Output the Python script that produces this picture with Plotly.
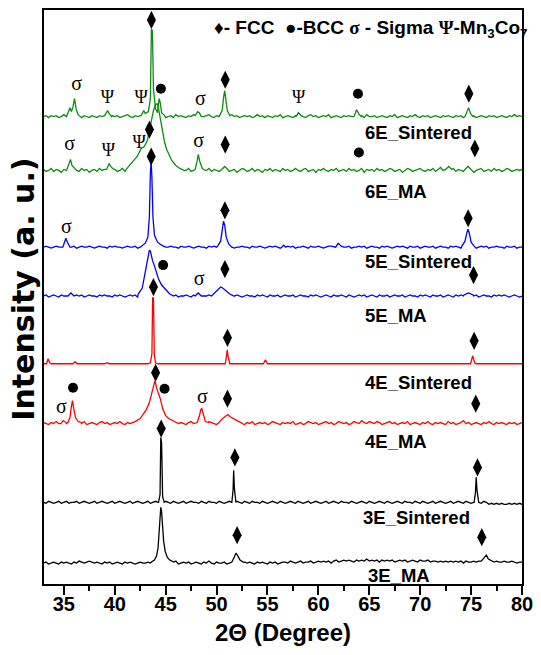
import numpy as np
import plotly.graph_objects as go

# ---------------- data ----------------
X0, DX = 33.0, 0.25   # grid of the noisy baselines (2-theta)

# baseline offsets of the stacked patterns (arbitrary intensity units)
OFFSETS = {"6E_Sintered": 469, "6E_MA": 415, "5E_Sintered": 338, "5E_MA": 289,
           "4E_Sintered": 221, "4E_MA": 161, "3E_Sintered": 82, "3E_MA": 21}

COLORS = {"6E_Sintered": "#0f8a12", "6E_MA": "#0f8a12", "5E_Sintered": "#0000ff",
          "5E_MA": "#0000ff", "4E_Sintered": "#ff0000", "4E_MA": "#ff0000",
          "3E_Sintered": "#000000", "3E_MA": "#000000"}

NOISE_6E_S = [0,1,-1,1,0,1,-1,0,2,0, 1,-1,0,1,0,-1,1,0,-1,1,
              0,-1,1,0,2,0,-1,1,0,1, -1,0,1,2,0,-1,1,0,1,0,
              1,0,-1,1,0,2,1,0,-1,0, 1,-1,2,0,1,0,-1,1,0,2,
              0,-1,1,0,1,2,0,-1,1,0, 1,0,-1,1,2,0,1,-1,0,1,
              0,1,-1,0,2,0,1,-1,1,0, -1,1,0,2,-1,0,1,0,-1,1,
              0,1,0,-1,1,2,0,1,-1,0, 1,0,2,-1,0,1,0,-1,1,0,
              1,0,-1,1,0,1,-1,2,0,0, 1,-1,0,1,0,-1,1,0,2,-1,
              0,1,0,-1,1,0,2,0,-1,1, 0,1,-1,0,1,0,-1,1,0,1,
              0,-1,1,0,1,-1,0,2,0,1, -1,0,1,0,-1,1,0,1,-1,0,
              1,0,-1,1,0,2,0,1,0]
PEAKS_6E_S = [
    [(35.3, 1), (35.5, 6), (35.6, 9), (35.75, 5), (35.9, 10), (36.05, 18), (36.2, 8), (36.4, 2), (36.6, 0)],
    [(39.0, 1), (39.2, 4), (39.3, 6), (39.45, 3), (39.7, 0)],
    [(42.6, 1), (42.85, 6), (43.0, 3), (43.3, 5), (43.5, 18), (43.6, 88), (43.7, 86), (43.8, 28),
     (44.0, 8), (44.2, 4), (44.35, 18), (44.45, 15), (44.6, 4), (44.9, 1)],
    [(47.9, 1), (48.15, 5), (48.3, 4), (48.5, 0)],
    [(50.3, 1), (50.55, 6), (50.7, 20), (50.8, 26), (50.9, 18), (51.05, 6), (51.3, 1)],
    [(57.8, 0), (58.05, 4), (58.3, 1)],
    [(63.5, 0), (63.75, 7), (63.95, 3), (64.2, 0)],
    [(74.4, 0), (74.65, 7), (74.75, 9), (74.95, 3), (75.2, 0)],
]

NOISE_6E_MA = [1,-1,0,2,-1,1,0,-2,1,0, 2,-1,1,0,-1,2,0,1,-2,0,
               1,-1,2,0,1,-2,0,1,1,-1, 0,2,-1,1,0,-1,2,0,1,-1,
               0,1,-1,2,0,1,0,-1,1,0, 2,-1,0,1,-2,1,0,2,-1,0,
               1,0,-2,1,0,2,-1,1,0,-1, 2,0,1,-1,0,1,-2,0,2,1,
               -1,0,2,-1,1,0,-2,1,0,2, -1,1,0,-1,2,0,1,-1,0,2,
               0,-1,1,2,-1,0,1,-2,1,0, 2,0,-1,1,0,2,-1,0,1,-1,
               2,0,1,-1,0,2,-2,1,0,1, -1,2,0,1,-1,0,2,1,-1,0,
               1,-2,0,2,1,-1,0,1,2,0, -1,1,0,2,-1,1,3,0,1,-1,
               0,2,-1,1,0,-1,2,0,1,-2, 0,1,2,-1,0,1,-1,2,0,1,
               -1,0,2,1,-1,0,1,0,1]
PEAKS_6E_MA = [
    [(35.3, 1), (35.55, 8), (35.65, 11), (35.8, 5), (36.1, 1)],
    [(39.2, 1), (39.45, 7), (39.6, 4), (39.9, 1)],
    [(41.2, 2), (41.7, 8), (42.2, 14), (42.6, 22), (42.9, 24), (43.2, 30), (43.4, 40), (43.6, 52),
     (43.8, 60), (44.0, 66), (44.15, 67), (44.3, 62), (44.5, 50), (44.7, 38), (44.9, 28), (45.1, 21),
     (45.3, 16), (45.6, 10), (46.0, 5), (46.4, 2), (46.8, 0)],
    [(47.9, 1), (48.1, 10), (48.2, 16), (48.35, 9), (48.6, 2), (48.9, 0)],
    [(50.5, 1), (50.8, 4), (51.1, 1)],
    [(72.5, 1), (72.8, 4), (73.1, 1)],
    [(74.4, 1), (74.7, 4), (75.0, 1)],
]

NOISE_5E_S = [0,1,0,-1,0,1,0,0,-1,1, 0,0,1,-1,0,1,0,0,1,0,
              -1,0,1,0,0,-1,1,0,1,0, 0,-1,0,1,0,0,1,-1,0,1,
              0,0,-1,1,0,0,1,0,-1,0, 1,0,0,-1,1,0,0,1,0,-1,
              0,1,0,0,-1,1,0,1,0,0, -1,0,1,0,1,-1,0,0,1,0,
              0,-1,1,0,0,1,0,-1,0,1, 0,1,0,-1,0,0,1,0,1,-1,
              0,0,1,0,-1,1,0,0,1,0, -1,0,1,1,0,-1,0,1,0,0,
              1,-1,0,0,1,0,1,-1,0,1, 0,0,-1,1,0,1,0,-1,0,1,
              0,1,0,-1,1,0,0,1,-1,0, 1,0,0,1,-1,0,1,0,0,-1,
              1,0,1,0,-1,0,1,0,0,1, -1,0,1,0,1,-1,0,0,1,0,
              0,-1,1,0,0,1,-1,0,0]
PEAKS_5E_S = [
    [(34.9, 0), (35.1, 6), (35.2, 9), (35.35, 5), (35.6, 0)],
    [(42.6, 1), (43.0, 4), (43.25, 10), (43.4, 30), (43.5, 75), (43.57, 86), (43.65, 70), (43.75, 30),
     (43.9, 12), (44.2, 5), (44.6, 2), (45.0, 0)],
    [(50.1, 1), (50.4, 6), (50.55, 16), (50.68, 26), (50.8, 22), (50.95, 10), (51.2, 3), (51.5, 0)],
    [(56.4, 0), (56.6, 2), (56.8, 0)],
    [(61.7, 0), (61.95, 4), (62.2, 1)],
    [(74.1, 1), (74.4, 6), (74.6, 15), (74.7, 18), (74.82, 14), (75.0, 5), (75.3, 1)],
]

NOISE_5E_MA = [0,1,-1,0,1,0,-1,1,0,0, 1,0,-1,1,0,1,-1,0,1,0,
               0,-1,1,0,1,0,0,-1,1,0, 1,0,-1,0,1,0,1,-1,0,1,
               0,1,0,-1,1,0,0,1,-1,0, 1,0,1,-1,0,0,1,0,-1,1,
               0,-1,1,0,0,1,0,-1,1,0, 0,1,-1,0,1,0,1,0,-1,0,
               1,0,0,-1,1,0,1,0,-1,1, 0,0,1,-1,0,1,0,0,1,-1,
               0,1,0,0,-1,1,0,1,0,-1, 0,1,0,-1,1,0,0,1,0,-1,
               1,0,-1,0,1,0,1,-1,0,1, 0,-1,1,0,0,1,-1,0,1,0,
               0,1,-1,0,1,0,0,-1,1,0, 1,0,-1,1,0,0,1,-1,0,1,
               0,-1,1,0,1,0,-1,0,1,0, 1,-1,0,1,0,0,-1,1,0,1,
               0,1,0,-1,0,1,0,-1,0]
PEAKS_5E_MA = [
    [(35.4, 0), (35.7, 3), (36.0, 0)],
    [(42.3, 2), (42.7, 8), (43.0, 24), (43.2, 38), (43.4, 46), (43.5, 45), (43.7, 36), (44.0, 27),
     (44.3, 17), (44.6, 11), (45.0, 6), (45.4, 2), (45.8, 0)],
    [(47.9, 0), (48.2, 3), (48.5, 0)],
    [(49.6, 1), (49.9, 4), (50.2, 8), (50.4, 9), (50.6, 8), (50.9, 5), (51.3, 2), (51.7, 0)],
    [(74.3, 1), (74.75, 3), (75.2, 1)],
]

NOISE_4E_S = [0,0,0,0,0,0,0,0,0,0, 0,0,0,0,0,0,0,0,0,0,
              0,0,0,0,0,1,0,0,0,0, 0,0,0,0,0,0,0,0,0,0,
              0,0,0,0,0,0,0,0,0,0, 0,0,0,0,0,0,0,0,0,0,
              0,0,0,0,0,0,0,0,0,0, 0,0,0,0,0,0,0,0,0,0,
              0,0,0,0,0,0,0,0,0,0, 0,0,0,0,0,0,0,0,0,0,
              0,0,0,0,0,0,0,0,0,0, 0,0,0,0,0,0,0,0,0,0,
              0,0,0,0,0,0,0,0,0,0, 0,0,0,0,0,0,0,0,0,0,
              0,0,0,0,0,0,0,0,0,0, 0,0,0,0,0,0,0,0,0,0,
              0,0,0,0,0,0,0,0,0,0, 0,0,0,0,0,0,0,0,0,0,
              0,0,0,0,0,0,0,0,0]
PEAKS_4E_S = [
    [(33.3, 0), (33.45, 5), (33.6, 1), (33.8, 0)],
    [(35.9, 0), (36.1, 2), (36.3, 0)],
    [(43.5, 1), (43.65, 10), (43.72, 66), (43.8, 66), (43.88, 10), (44.0, 1)],
    [(50.85, 0), (50.98, 8), (51.05, 14), (51.12, 8), (51.3, 0)],
    [(54.6, 0), (54.8, 4), (55.0, 0)],
    [(74.95, 0), (75.15, 8), (75.35, 1)],
]

NOISE_4E_MA = [1,0,-1,1,0,2,0,-1,1,0, 0,1,-1,0,1,0,2,-1,0,1,
               0,-1,1,2,0,1,-1,0,1,0, 2,0,-1,1,0,1,0,-1,2,1,
               0,1,-1,0,1,0,-1,1,0,2, 0,-1,1,0,1,0,-1,1,2,0,
               1,0,-1,1,0,2,1,0,-1,1, 0,1,2,0,-1,1,0,1,0,-1,
               1,0,2,-1,0,1,0,1,-1,0, 2,1,0,-1,1,0,1,0,2,-1,
               0,1,-1,0,2,1,0,1,-1,0, 1,2,0,1,-1,0,2,1,0,1,
               -1,0,2,1,0,3,1,0,2,1, 0,2,1,-1,0,1,2,0,1,-1,
               0,1,0,2,-1,0,1,0,-1,1, 0,2,0,-1,1,0,1,0,-1,2,
               0,1,-1,0,1,3,0,1,-1,0, 1,0,-1,1,0,2,0,-1,1,0,
               1,0,-1,1,0,1,-1,0,1]
PEAKS_4E_MA = [
    [(34.7, 0), (34.95, 3), (35.2, 1)],
    [(35.4, 1), (35.6, 6), (35.75, 18), (35.85, 23), (35.95, 16), (36.15, 6), (36.4, 2), (36.7, 1)],
    [(42.0, 2), (42.5, 5), (42.8, 9), (43.1, 14), (43.4, 21), (43.65, 32), (43.85, 41), (43.95, 43),
     (44.1, 36), (44.3, 30), (44.5, 24), (44.7, 15), (45.0, 8), (45.3, 5), (45.7, 3), (46.2, 1)],
    [(48.1, 1), (48.3, 7), (48.45, 14), (48.55, 15), (48.7, 8), (48.9, 2), (49.2, 1)],
    [(50.3, 2), (50.6, 5), (50.9, 8), (51.1, 9), (51.3, 7), (51.6, 5), (52.0, 3), (52.4, 1)],
]

NOISE_3E_S = [0,-1,1,0,-1,0,1,-1,0,1, -1,0,0,1,-1,0,1,0,-1,0,
              1,-1,0,1,0,-1,0,1,-1,0, 1,0,-1,0,1,-1,0,1,0,-1,
              0,1,-1,0,1,0,-1,0,1,0, -1,1,0,-1,0,1,-1,0,1,0,
              0,-1,1,0,-1,1,0,0,-1,1, 0,-1,0,1,-1,0,1,0,-1,1,
              0,-1,1,0,0,-1,1,0,-1,0, 1,0,-1,1,0,-1,0,1,0,-1,
              1,0,-1,0,1,-1,0,1,0,-1, 0,1,-1,0,1,0,-1,1,0,0,
              -1,1,0,-1,0,1,0,-1,1,0, -1,0,1,0,-1,1,0,-1,0,1,
              0,-1,1,0,0,-1,1,0,-1,1, 0,-1,0,1,-1,0,1,0,-1,0,
              1,-1,0,1,0,-1,1,0,-1,0, 1,0,-1,1,0,-2,-1,-2,-1,-2,
              -1,-2,-2,-1,-2,-1,-2,-1,-2]
PEAKS_3E_S = [
    [(44.3, 0), (44.45, 8), (44.52, 65), (44.6, 60), (44.7, 6), (44.85, 0)],
    [(51.5, 0), (51.62, 12), (51.68, 32), (51.75, 14), (51.9, 0)],
    [(75.3, 0), (75.43, 10), (75.5, 25), (75.58, 12), (75.75, 0)],
]

NOISE_3E_MA = [0,1,-1,0,1,0,-1,1,0,1, 0,-1,1,0,2,1,0,1,2,1,
               0,1,0,-1,1,0,1,-1,0,1, 0,-1,1,0,1,0,-1,0,1,0,
               0,1,0,-1,1,0,0,1,-1,0, 1,0,2,-1,0,1,0,1,-1,0,
               1,0,-1,1,0,2,0,-1,1,0, 0,1,-1,0,1,0,1,-1,0,1,
               0,1,0,-1,1,0,1,0,-1,1, 0,1,-1,0,1,1,0,2,1,0,
               1,2,0,1,1,2,0,1,2,1, 2,1,2,0,2,3,1,2,3,2,
               3,2,1,3,2,3,2,4,2,3, 2,3,1,3,2,3,2,3,1,2,
               3,2,3,1,2,3,2,1,3,2, 2,3,1,2,2,1,2,1,2,1,
               2,1,2,1,2,0,2,1,1,2, 1,2,1,2,1,1,2,1,2,1,
               1,2,1,1,2,1,0,1,1]
PEAKS_3E_MA = [
    [(43.6, 1), (43.9, 3), (44.1, 7), (44.25, 15), (44.35, 30), (44.45, 50), (44.52, 56), (44.6, 52),
     (44.7, 38), (44.8, 22), (44.95, 12), (45.15, 6), (45.4, 3), (45.8, 1)],
    [(51.5, 1), (51.75, 6), (51.9, 10), (52.05, 8), (52.3, 3), (52.6, 1)],
    [(76.0, 2), (76.3, 5), (76.5, 8), (76.7, 4), (77.0, 2)],
]

SERIES = [("3E_MA", NOISE_3E_MA, PEAKS_3E_MA), ("3E_Sintered", NOISE_3E_S, PEAKS_3E_S),
          ("4E_MA", NOISE_4E_MA, PEAKS_4E_MA), ("4E_Sintered", NOISE_4E_S, PEAKS_4E_S),
          ("5E_MA", NOISE_5E_MA, PEAKS_5E_MA), ("5E_Sintered", NOISE_5E_S, PEAKS_5E_S),
          ("6E_MA", NOISE_6E_MA, PEAKS_6E_MA), ("6E_Sintered", NOISE_6E_S, PEAKS_6E_S)]

# sample labels: (text, 2theta of left edge, intensity level)
LABELS = [("6E_Sintered", 64.35, 453), ("6E_MA", 64.35, 394), ("5E_Sintered", 64.35, 324),
          ("5E_MA", 64.35, 269), ("4E_Sintered", 64.35, 202), ("4E_MA", 64.35, 143),
          ("3E_Sintered", 64.15, 67), ("3E_MA", 64.65, 9)]

# phase markers (2theta, intensity level)
FCC_X = [43.6, 50.85, 74.78, 43.41, 50.85, 75.37, 43.58, 50.82, 74.71, 50.82, 75.24,
         43.8, 51.07, 75.3, 44.01, 51.07, 75.46, 44.56, 51.8, 75.63, 52.02, 76.05]
FCC_Y = [566, 506, 492, 456, 441, 437, 429, 375, 367, 316, 310,
         298, 247, 244, 212, 186, 181, 156, 127, 117, 49, 47]
BCC_X = [44.53, 63.89, 63.98, 44.75, 35.9, 44.89]
BCC_Y = [497, 492, 433, 320, 197, 196]
SIGMA_X = [36.26, 48.42, 35.58, 48.23, 35.26, 48.29, 34.77, 48.61]
SIGMA_Y = [501, 486, 441, 444, 357, 305, 177, 187]
PSI_X = [39.28, 42.58, 58.05, 39.37, 42.39]
PSI_Y = [487, 487, 487, 434, 442]

X_TICKS = [35, 40, 45, 50, 55, 60, 65, 70, 75, 80]
X_RANGE = [33.05, 80]
Y_RANGE = [0, 576]

SANS = "Liberation Sans, Arial, sans-serif"
SERIF = "Liberation Serif, Times New Roman, serif"


def build(noise, peaks, offset):
    gx = X0 + DX * np.arange(len(noise))
    gy = np.asarray(noise, dtype=float)
    keep = gx <= 80.0
    for seg in peaks:
        lo, hi = seg[0][0], seg[-1][0]
        keep &= ~((gx >= lo) & (gx <= hi))
    xs = list(gx[keep])
    ys = list(gy[keep])
    for seg in peaks:
        for px, py in seg:
            xs.append(px)
            ys.append(py)
    order = np.argsort(xs, kind="stable")
    return np.asarray(xs)[order], np.asarray(ys)[order] + offset


fig = go.Figure()
for name, noise, peaks in SERIES:
    xs, ys = build(noise, peaks, OFFSETS[name])
    fig.add_trace(go.Scatter(x=xs, y=ys, mode="lines", name=name,
                             line=dict(color=COLORS[name], width=1.3),
                             showlegend=False, hoverinfo="skip"))

fig.add_trace(go.Scatter(x=FCC_X, y=FCC_Y, mode="markers", showlegend=False,
                         marker=dict(symbol="diamond-tall", size=13, color="black")))
fig.add_trace(go.Scatter(x=BCC_X, y=BCC_Y, mode="markers", showlegend=False,
                         marker=dict(symbol="circle", size=10, color="black")))
fig.add_trace(go.Scatter(x=SIGMA_X, y=SIGMA_Y, mode="text", text=["σ"] * len(SIGMA_X),
                         showlegend=False, textposition="middle center",
                         textfont=dict(family=SERIF, size=20, color="black")))
fig.add_trace(go.Scatter(x=PSI_X, y=PSI_Y, mode="text", text=["Ψ"] * len(PSI_X),
                         showlegend=False, textposition="middle center",
                         textfont=dict(family=SERIF, size=18, color="black")))

annotations = []
for text, lx, ly in LABELS:
    annotations.append(dict(x=lx, y=ly, xref="x", yref="y", text=text, showarrow=False,
                            xanchor="left", yanchor="middle",
                            font=dict(family=SANS, size=18.5, color="black", weight="bold")))

annotations.append(dict(
    x=49.55, y=557, xref="x", yref="y", xanchor="left", yanchor="middle", showarrow=False,
    text=("♦- FCC  ●-BCC <span style='font-family:Liberation Serif'>σ</span> - Sigma "
          "<span style='font-family:Liberation Serif'>Ψ</span>-Mn<sub>3</sub>Co<sub>7</sub>"),
    font=dict(family=SANS, size=19, color="black", weight="bold")))

annotations.append(dict(x=-0.0435, y=0.513, xref="paper", yref="paper", showarrow=False,
                        text="Intensity (a. u.)", textangle=-90, xanchor="center", yanchor="middle",
                        font=dict(family="DejaVu Sans, sans-serif", size=30, color="black", weight="bold")))
annotations.append(dict(x=0.5, y=-0.085, xref="paper", yref="paper", showarrow=False,
                        text="2Θ (Degree)", xanchor="center", yanchor="middle",
                        font=dict(family=SANS, size=24, color="black", weight="bold")))

fig.update_layout(
    width=541, height=655,
    margin=dict(l=44, r=14, t=8, b=71),
    paper_bgcolor="white", plot_bgcolor="white",
    annotations=annotations,
    xaxis=dict(range=X_RANGE, tickvals=X_TICKS, ticks="outside", ticklen=9, tickwidth=2,
               tickcolor="black", showline=True, linewidth=2, linecolor="black", mirror=True,
               showgrid=False, zeroline=False, ticklabelstandoff=-8,
               tickfont=dict(family=SANS, size=20, color="black", weight="bold"),
               minor=dict(ticks="outside", ticklen=5, tickwidth=2, tickcolor="black",
                          dtick=2.5, tick0=0, showgrid=False)),
    yaxis=dict(range=Y_RANGE, showticklabels=False, ticks="", showline=True, linewidth=2,
               linecolor="black", mirror=True, showgrid=False, zeroline=False),
)

fig.write_html("out.html", config={"displayModeBar": False},
               post_script="document.body.style.margin='0';document.body.style.padding='0';")
